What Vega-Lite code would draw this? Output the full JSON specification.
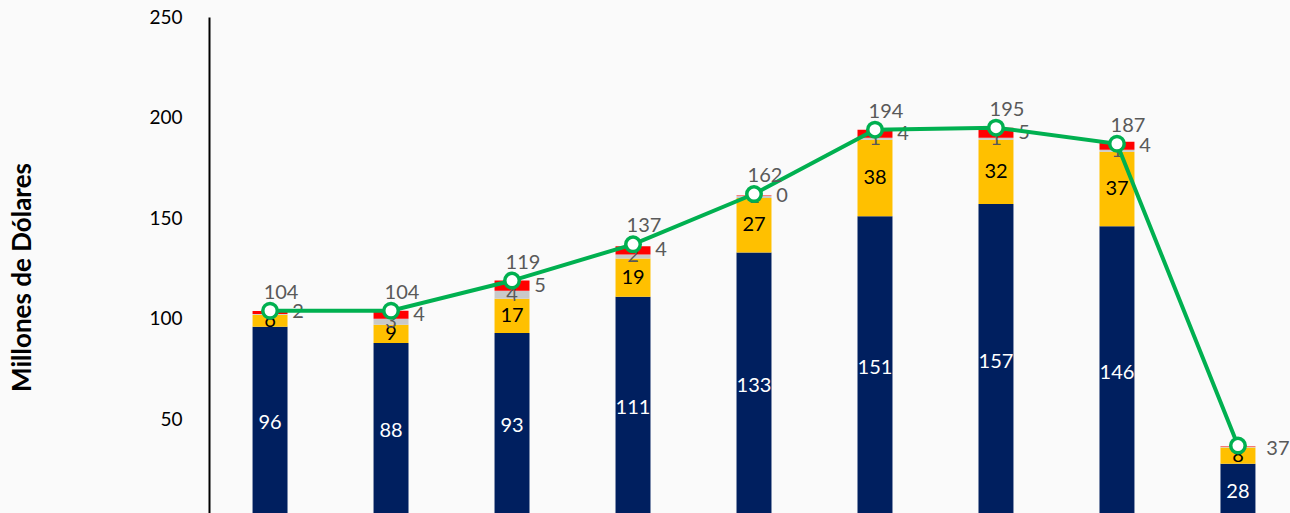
{
  "$schema": "https://vega.github.io/schema/vega-lite/v6.json",
  "width": 1090,
  "height": 503,
  "autosize": {"type": "none"},
  "padding": {"left": 209, "top": 17, "right": 0, "bottom": 0},
  "background": "#FAFAFA",
  "config": {
    "view": {"stroke": null},
    "font": "Lato",
    "text": {"font": "Lato", "fontSize": 19}
  },
  "datasets": {
    "segments": [
      {"year": "2015", "series": "Serie 1", "value": 96},
      {"year": "2015", "series": "Serie 2", "value": 6},
      {"year": "2015", "series": "Serie 3", "value": 0.4},
      {"year": "2015", "series": "Serie 4", "value": 1.5},
      {"year": "2016", "series": "Serie 1", "value": 88},
      {"year": "2016", "series": "Serie 2", "value": 9},
      {"year": "2016", "series": "Serie 3", "value": 3},
      {"year": "2016", "series": "Serie 4", "value": 4},
      {"year": "2017", "series": "Serie 1", "value": 93},
      {"year": "2017", "series": "Serie 2", "value": 17},
      {"year": "2017", "series": "Serie 3", "value": 4},
      {"year": "2017", "series": "Serie 4", "value": 5},
      {"year": "2018", "series": "Serie 1", "value": 111},
      {"year": "2018", "series": "Serie 2", "value": 19},
      {"year": "2018", "series": "Serie 3", "value": 2},
      {"year": "2018", "series": "Serie 4", "value": 4},
      {"year": "2019", "series": "Serie 1", "value": 133},
      {"year": "2019", "series": "Serie 2", "value": 27},
      {"year": "2019", "series": "Serie 3", "value": 1},
      {"year": "2019", "series": "Serie 4", "value": 0.3},
      {"year": "2020", "series": "Serie 1", "value": 151},
      {"year": "2020", "series": "Serie 2", "value": 38},
      {"year": "2020", "series": "Serie 3", "value": 1},
      {"year": "2020", "series": "Serie 4", "value": 4},
      {"year": "2021", "series": "Serie 1", "value": 157},
      {"year": "2021", "series": "Serie 2", "value": 32},
      {"year": "2021", "series": "Serie 3", "value": 1},
      {"year": "2021", "series": "Serie 4", "value": 5},
      {"year": "2022", "series": "Serie 1", "value": 146},
      {"year": "2022", "series": "Serie 2", "value": 37},
      {"year": "2022", "series": "Serie 3", "value": 1},
      {"year": "2022", "series": "Serie 4", "value": 4},
      {"year": "2023", "series": "Serie 1", "value": 28},
      {"year": "2023", "series": "Serie 2", "value": 8},
      {"year": "2023", "series": "Serie 3", "value": 0.4},
      {"year": "2023", "series": "Serie 4", "value": 0.3}
    ],
    "totals": [
      {"year": "2015", "total": 104},
      {"year": "2016", "total": 104},
      {"year": "2017", "total": 119},
      {"year": "2018", "total": 137},
      {"year": "2019", "total": 162},
      {"year": "2020", "total": 194},
      {"year": "2021", "total": 195},
      {"year": "2022", "total": 187},
      {"year": "2023", "total": 37}
    ]
  },
  "encoding": {
    "x": {
      "field": "year",
      "type": "nominal",
      "sort": null,
      "scale": {"paddingInner": 0.711, "paddingOuter": 0.36},
      "axis": {"title": null, "labels": false, "ticks": false, "domain": false}
    }
  },
  "layer": [
    {
      "data": {"name": "segments"},
      "mark": {"type": "bar"},
      "encoding": {
        "y": {
          "field": "value",
          "type": "quantitative",
          "stack": "zero",
          "scale": {"domain": [0, 250], "nice": false},
          "axis": {
            "values": [50, 100, 150, 200, 250],
            "grid": false,
            "ticks": false,
            "tickSize": 0,
            "domainColor": "#000000",
            "domainWidth": 2,
            "labelFontSize": 19,
            "labelColor": "#000000",
            "labelPadding": 27,
            "title": "Millones de Dólares",
            "titleFontSize": 26,
            "titleFontWeight": "bold",
            "titleColor": "#000000",
            "titleAngle": 270,
            "titleAlign": "center",
            "titleBaseline": "middle",
            "titleX": -187,
            "titleY": 260
          }
        },
        "color": {
          "field": "series",
          "type": "nominal",
          "scale": {
            "domain": ["Serie 1", "Serie 2", "Serie 3", "Serie 4"],
            "range": ["#001F5F", "#FFC000", "#C9C9C9", "#FF0000"]
          },
          "legend": null
        },
        "order": {"field": "series", "type": "ordinal", "sort": "ascending"}
      }
    },
    {
      "data": {"name": "segments"},
      "mark": {"type": "text", "fontSize": 20, "align": "center", "baseline": "middle"},
      "encoding": {
        "y": {"field": "value", "type": "quantitative", "stack": "zero", "bandPosition": 0.5},
        "detail": {"field": "series", "type": "nominal"},
        "order": {"field": "series", "type": "ordinal", "sort": "ascending"},
        "text": {
          "condition": {"test": "datum.series !== 'Serie 4'", "field": "value", "type": "quantitative", "format": ".0f"},
          "value": ""
        },
        "color": {
          "condition": [
            {"test": "datum.series === 'Serie 1'", "value": "#FFFFFF"},
            {"test": "datum.series === 'Serie 2'", "value": "#000000"}
          ],
          "value": "#595959"
        }
      }
    },
    {
      "data": {"name": "segments"},
      "mark": {"type": "text", "fontSize": 20, "align": "center", "baseline": "middle", "dx": 28, "color": "#595959"},
      "encoding": {
        "y": {"field": "value", "type": "quantitative", "stack": "zero", "bandPosition": 0.5},
        "detail": {"field": "series", "type": "nominal"},
        "order": {"field": "series", "type": "ordinal", "sort": "ascending"},
        "text": {
          "condition": {"test": "datum.series === 'Serie 4' && datum.year !== '2023'", "field": "value", "type": "quantitative", "format": ".0f"},
          "value": ""
        }
      }
    },
    {
      "data": {"name": "totals"},
      "mark": {
        "type": "line",
        "color": "#00B050",
        "strokeWidth": 4,
        "point": {"filled": true, "fill": "#FFFFFF", "stroke": "#00B050", "strokeWidth": 3.5, "size": 210}
      },
      "encoding": {
        "y": {"field": "total", "type": "quantitative"}
      }
    },
    {
      "data": {"name": "totals"},
      "transform": [{"filter": "datum.year !== '2023'"}],
      "mark": {"type": "text", "fontSize": 20, "align": "center", "baseline": "middle", "dx": 11, "dy": -18, "color": "#595959"},
      "encoding": {
        "y": {"field": "total", "type": "quantitative"},
        "text": {"field": "total", "type": "quantitative", "format": ".0f"}
      }
    },
    {
      "data": {"name": "totals"},
      "transform": [{"filter": "datum.year === '2023'"}],
      "mark": {"type": "text", "fontSize": 20, "align": "center", "baseline": "middle", "dx": 40, "dy": 3, "color": "#595959"},
      "encoding": {
        "y": {"field": "total", "type": "quantitative"},
        "text": {"field": "total", "type": "quantitative", "format": ".0f"}
      }
    }
  ]
}
